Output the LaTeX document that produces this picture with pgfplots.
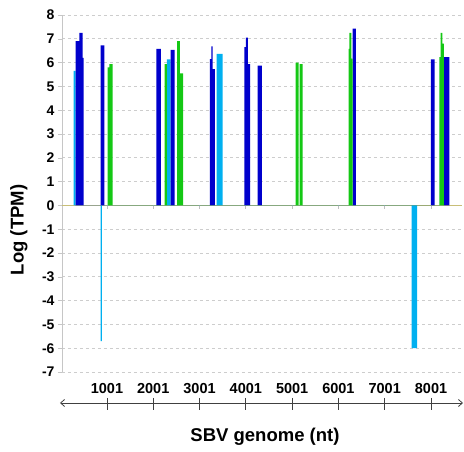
\documentclass[border=0pt]{standalone}
\usepackage{fontspec}
\setmainfont{Liberation Sans}
\usepackage{pgfplots}
\pgfplotsset{compat=1.18}
\usetikzlibrary{arrows.meta}
\definecolor{dblue}{RGB}{0,0,204}
\definecolor{lblue}{RGB}{0,176,240}
\definecolor{sgreen}{RGB}{20,200,20}
\definecolor{zeroline}{RGB}{200,190,120}
\definecolor{gridgray}{RGB}{205,205,205}

\begin{document}
\begin{tikzpicture}
\path[use as bounding box] (-62pt,-80pt) rectangle (402pt,372pt);
\begin{axis}[
    at={(0,0)}, anchor=south west,
    scale only axis, width=400pt, height=357pt,
    xmin=30, xmax=8670, ymin=-7, ymax=8,
    enlargelimits=false, clip=false,
    axis x line*=bottom, axis y line*=left,
    x axis line style={draw=none},
    y axis line style={gray!45, line width=0.8pt},
    xtick={1001,2001,3001,4001,5001,6001,7001,8001},
    xticklabels={1001,2001,3001,4001,5001,6001,7001,8001},
    x tick style={draw=none},
    xticklabel style={anchor=center, yshift=-13pt, inner sep=0pt,
        font=\fontsize{14.5}{14.5}\selectfont\bfseries},
    ytick={-7,-6,...,8},
    yticklabels={-7,-6,-5,-4,-3,-2,-1,0,1,2,3,4,5,6,7,8},
    yticklabel style={font=\fontsize{14}{14}\selectfont\bfseries},
    y tick style={gray!45}, tick align=outside, major tick length=4pt,
    ymajorgrids, grid style={gridgray, dashed, line width=0.7pt},
    xlabel={SBV genome (nt)},
    xlabel style={at={(axis description cs:0.5075,-0.182)}, anchor=center,
        font=\fontsize{18.5}{18.5}\selectfont\bfseries},
    ylabel={Log (TPM)},
    ylabel style={at={(axis description cs:-0.1075,0.398)}, anchor=center,
        font=\fontsize{18.5}{18.5}\selectfont\bfseries},
]
\draw[zeroline, line width=1.3pt] (axis cs:30,0) -- (axis cs:8670,0);
\pgfplotsinvokeforeach{1001,2001,3001,4001,5001,6001,7001,8001}{
  \draw[gray!50, line width=0.8pt] (axis cs:#1,0) -- ([yshift=-4pt]axis cs:#1,0);
  \draw[black!75, line width=0.8pt] ([yshift=-26pt]axis cs:#1,-7) -- ([yshift=-38pt]axis cs:#1,-7);
}
\draw[black!75, line width=0.8pt, {Straight Barb[length=4pt,width=7pt]}-{Straight Barb[length=4pt,width=7pt]}]
  ([xshift=-2pt,yshift=-31pt]rel axis cs:0,0) -- ([xshift=1pt,yshift=-31pt]rel axis cs:1,0);

% light blue
\addplot[ybar interval, fill=lblue, draw=none] coordinates {
 (282,5.65) (325,0) (865,-5.7) (889,0) (2297,6.13) (2377,0)
 (3371,6.37) (3500,0) (7583,-6.0) (7703,0)
};
% dark blue
\addplot[ybar interval, fill=dblue, draw=none] coordinates {
 (325,6.9) (403,7.25) (476,6.2) (496,0) (865,6.72) (943,0)
 (2070,6.58) (2167,0) (2377,6.53) (2463,0)
 (3226,6.15) (3254,6.68) (3284,5.73) (3334,0)
 (3967,6.65) (4003,7.05) (4046,5.94) (4096,0) (4256,5.87) (4349,0)
 (6308,7.43) (6379,0) (7999,6.13) (8079,0) (8280,6.23) (8395,0)
};
% green
\addplot[ybar interval, fill=sgreen, draw=none] coordinates {
 (1016,5.8) (1051,5.94) (1124,0) (2247,5.94) (2297,0)
 (2519,6.9) (2578,5.55) (2649,0)
 (5077,6.0) (5142,0) (5163,5.94) (5228,0)
 (6222,6.58) (6235,7.25) (6278,6.17) (6308,0)
 (8179,6.23) (8209,7.25) (8244,6.8) (8280,0)
};
\end{axis}
\end{tikzpicture}
\end{document}
